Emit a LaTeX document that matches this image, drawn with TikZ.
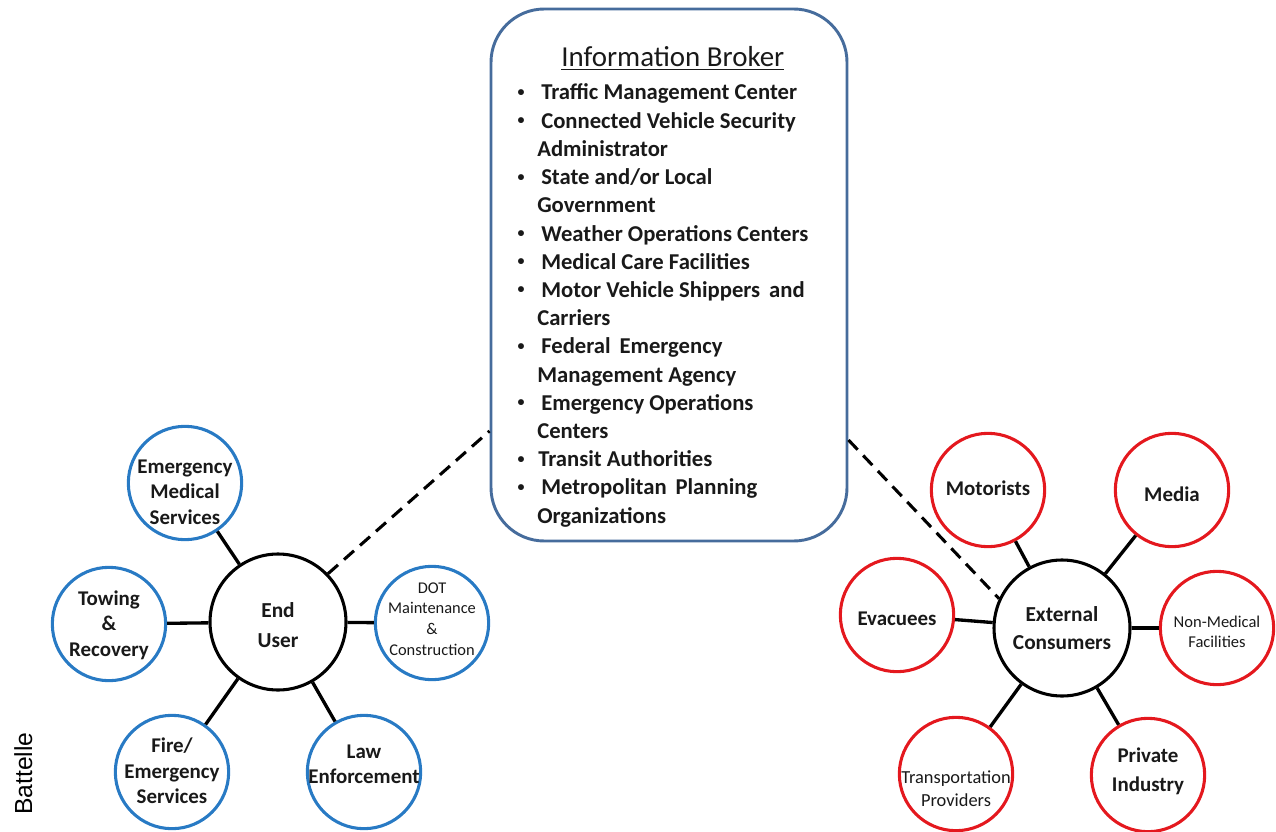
\documentclass[tikz,border=0pt]{standalone}
\usepackage{fontspec}
\setmainfont{Carlito}
\newfontfamily\arialfont{Liberation Sans}
\definecolor{cblue}{RGB}{40,122,196}
\definecolor{cred}{RGB}{228,24,30}
\definecolor{cbox}{RGB}{70,108,156}
\definecolor{txt}{RGB}{25,25,25}
\tikzset{
  hub/.style={circle, draw=black, line width=2.3pt, minimum size=102pt, inner sep=0pt, fill=white},
  bluec/.style={circle, draw=cblue, line width=2.3pt, minimum size=85pt, inner sep=0pt},
  redc/.style={circle, draw=cred, line width=2.3pt, minimum size=85pt, inner sep=0pt},
  spoke/.style={line width=2.5pt, black},
  link/.style={line width=2.3pt, black, dash pattern=on 10pt off 6pt},
  brokerbox/.style={draw=cbox, line width=2.2pt, rounded corners=40pt, minimum width=267pt, minimum height=399pt, inner sep=0pt},
  lbl/.style={text=txt, align=center, inner sep=0pt, font=\fontsize{15.7}{19.2}\selectfont\bfseries},
  hublbl/.style={text=txt, align=center, inner sep=0pt, font=\fontsize{16}{22}\selectfont\bfseries},
  smalllbl/.style={text=txt, align=center, inner sep=0pt, font=\fontsize{12.3}{15.6}\selectfont},
  li/.style={text=txt, anchor=base west, inner sep=0pt, font=\fontsize{17}{20}\selectfont\bfseries},
  bul/.style={text=txt, anchor=center, inner sep=0pt, font=\fontsize{10.5}{12}\selectfont\bfseries},
}
\begin{document}
\begin{tikzpicture}[x=0.75pt,y=-0.75pt]
\useasboundingbox (0,0) rectangle (1276,831);

% Information broker box
\node[brokerbox] (bb) at (669,275) {};
\node[text=txt, anchor=base west, inner sep=0pt, font=\fontsize{21.7}{24}\selectfont] (title) at (561,67) {\underline{Information Broker}};

\node[bul] (b1) at (521,93) {•};
\node[li] (l1) at (541,100) {Traffic Management Center};
\node[bul] (b2) at (521,121.2) {•};
\node[li] (l2) at (541,128.2) {Connected Vehicle Security};
\node[li] (l3) at (537,156.4) {Administrator};
\node[bul] (b4) at (521,177.6) {•};
\node[li] (l4) at (541,184.6) {State and/or Local};
\node[li] (l5) at (537,212.8) {Government};
\node[bul] (b6) at (521,234) {•};
\node[li] (l6) at (541,241) {Weather Operations Centers};
\node[bul] (b7) at (521,262.2) {•};
\node[li] (l7) at (541,269.2) {Medical Care Facilities};
\node[bul] (b8) at (521,290.4) {•};
\node[li] (l8) at (541,297.4) {Motor Vehicle Shippers\, and};
\node[li] (l9) at (537,325.6) {Carriers};
\node[bul] (b10) at (521,346.8) {•};
\node[li] (l10) at (541,353.8) {Federal\, Emergency};
\node[li] (l11) at (537,382) {Management Agency};
\node[bul] (b12) at (521,403.2) {•};
\node[li] (l12) at (541,410.2) {Emergency Operations};
\node[li] (l13) at (537,438.4) {Centers};
\node[bul] (b14) at (521,459.6) {•};
\node[li] (l14) at (538,466.6) {Transit Authorities};
\node[bul] (b15) at (521,487.8) {•};
\node[li] (l15) at (541,494.8) {Metropolitan\, Planning};
\node[li] (l16) at (537,523) {Organizations};

% End user cluster
\node[hub] (eu) at (278,622) {};
\node[bluec] (ems) at (185,483) {};
\node[bluec] (tow) at (109,624) {};
\node[bluec] (dot) at (432,623) {};
\node[bluec] (fire) at (172,772) {};
\node[bluec] (law) at (364,772) {};

\node[hublbl] (euT) at (278,625) {End\\User};
\node[lbl] (emsT) at (185,492) {Emergency\\Medical\\Services};
\node[lbl] (towT) at (109,625) {Towing\\\&\\Recovery};
\node[smalllbl] (dotT) at (432,619) {DOT\\Maintenance\\\&\\Construction};
\node[lbl] (fireT) at (172,771) {Fire/\\Emergency\\Services};
\node[lbl, font=\fontsize{15.7}{19}\selectfont\bfseries] (lawT) at (364,764) {Law\\Enforcement};

\draw[spoke] (eu) -- (ems);
\draw[spoke] (eu) -- (tow);
\draw[spoke] (eu) -- (dot);
\draw[spoke] (eu) -- (fire);
\draw[spoke] (eu) -- (law);

% External consumers cluster
\node[hub] (ec) at (1062,628) {};
\node[redc] (mot) at (988,490) {};
\node[redc] (med) at (1172,490) {};
\node[redc] (eva) at (897,615) {};
\node[redc] (nmf) at (1217,628) {};
\node[redc] (tp) at (956,774) {};
\node[redc] (pi) at (1148,775) {};

\node[hublbl, font=\fontsize{16}{21}\selectfont\bfseries] (ecT) at (1062,628) {External\\Consumers};
\node[lbl] (motT) at (988,488) {Motorists};
\node[lbl] (medT) at (1172,494) {Media};
\node[lbl] (evaT) at (897,619) {Evacuees};
\node[smalllbl, font=\fontsize{12.4}{15}\selectfont] (nmfT) at (1217,632) {Non-Medical\\Facilities};
\node[smalllbl, font=\fontsize{13.8}{17.3}\selectfont] (tpT) at (956,789) {Transportation\\Providers};
\node[lbl, font=\fontsize{15.7}{21.7}\selectfont\bfseries] (piT) at (1148,771) {Private\\Industry};

\draw[spoke] (ec) -- (mot);
\draw[spoke] (ec) -- (med);
\draw[spoke] (ec) -- (eva);
\draw[spoke] (ec) -- (nmf);
\draw[spoke] (ec) -- (tp);
\draw[spoke] (ec) -- (pi);

% dashed links to broker
\coordinate (dl) at (bb.west |- 0,431);
\coordinate (dr) at (bb.east |- 0,440);
\draw[link] (eu.44) -- (dl);
\draw[link] (dr) -- (ec.155);

% credit
\node[rotate=90, anchor=base west, inner sep=0pt, font=\arialfont\fontsize{18.5}{20}\selectfont] (credit) at (32,815) {Battelle};
\end{tikzpicture}
\end{document}
